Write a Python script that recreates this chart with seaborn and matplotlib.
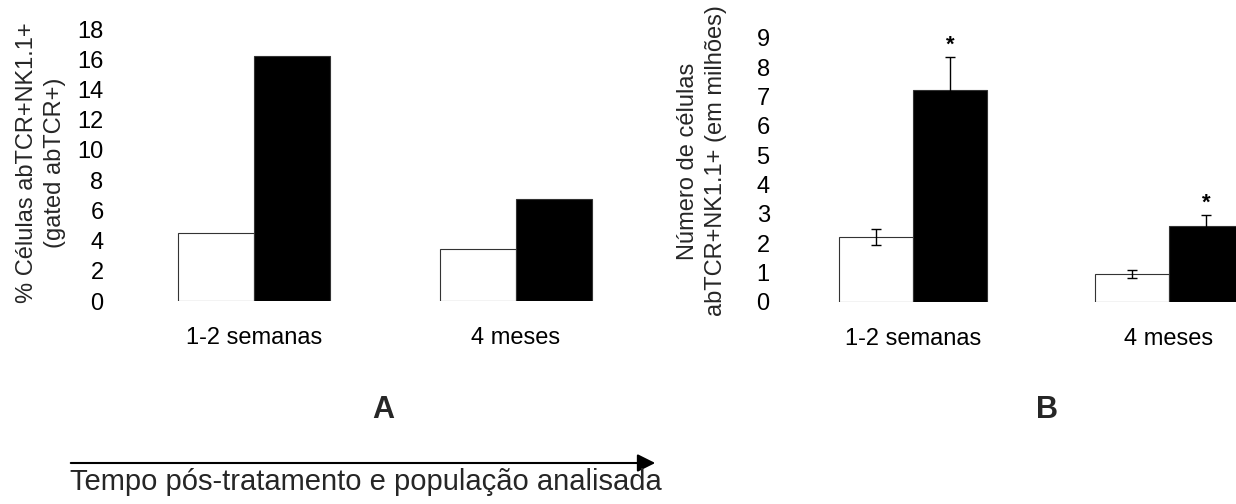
import numpy as np
import pandas as pd
import matplotlib
matplotlib.use("Agg")
import matplotlib.pyplot as plt
from matplotlib.patches import FancyArrowPatch
import seaborn as sns

# ---- data ----
groups = ["1-2 semanas", "4 meses"]
series = ["Controle", "Tratado"]
pct_controle = [4.5, 3.45]
pct_tratado = [16.2, 6.75]
num_controle = [2.22, 0.95]
num_tratado = [7.23, 2.59]
err_controle = [0.26, 0.13]
err_tratado = [1.13, 0.38]
signif_tratado = [True, True]
yticks_a = [0, 2, 4, 6, 8, 10, 12, 14, 16, 18]
yticks_b = [0, 1, 2, 3, 4, 5, 6, 7, 8, 9]

sns.set_theme(style="white")
plt.rcParams["font.family"] = ["Liberation Sans", "DejaVu Sans"]

W, H = 1236, 504
fig = plt.figure(figsize=(W / 100, H / 100), dpi=100)

axA = fig.add_axes([123 / W, (H - 301) / H, 524 / W, 272 / H])
axB = fig.add_axes([785 / W, (H - 302) / H, 512 / W, 264 / H])

palette = {"Controle": "white", "Tratado": "black"}

dfA = pd.DataFrame({
    "grupo": groups * 2,
    "serie": [series[0]] * len(groups) + [series[1]] * len(groups),
    "valor": pct_controle + pct_tratado,
})
dfB = pd.DataFrame({
    "grupo": groups * 2,
    "serie": [series[0]] * len(groups) + [series[1]] * len(groups),
    "valor": num_controle + num_tratado,
})

for ax, df in ((axA, dfA), (axB, dfB)):
    sns.barplot(data=df, x="grupo", y="valor", hue="serie", hue_order=series,
                order=groups, palette=palette, width=0.58, edgecolor="#333333",
                linewidth=0.8, errorbar=None, legend=False, ax=ax)
    for s in ax.spines.values():
        s.set_visible(False)
    ax.set_xlabel("")
    ax.tick_params(axis="both", length=0, labelsize=17, colors="black")
    ax.tick_params(axis="x", pad=19)
    ax.set_xlim(-0.5, len(groups) - 0.5)
    ax.grid(False)

axA.set_ylim(0, 18)
axA.set_yticks(yticks_a)
axA.tick_params(axis="y", pad=14)
axA.set_ylabel("% Células abTCR+NK1.1+\n(gated abTCR+)", fontsize=17, linespacing=1.35)
axA.yaxis.set_label_coords(-0.109, 0.507)

axB.set_ylim(0, 9)
axB.set_yticks(yticks_b)
axB.tick_params(axis="y", pad=11)
axB.set_ylabel("Número de células\nabTCR+NK1.1+ (em milhões)", fontsize=17, linespacing=1.35)
axB.yaxis.set_label_coords(-0.113, 0.534)

# error bars and significance marks from the seaborn bar containers
for cont, errs, means in ((axB.containers[0], err_controle, num_controle),
                          (axB.containers[1], err_tratado, num_tratado)):
    xs = [p.get_x() + p.get_width() / 2 for p in cont.patches]
    axB.errorbar(xs, means, yerr=errs, fmt="none", ecolor="black",
                 elinewidth=1.0, capsize=3.5, capthick=1.0, zorder=5)

xs_t = [p.get_x() + p.get_width() / 2 for p in axB.containers[1].patches]
for x, m, e, sig in zip(xs_t, num_tratado, err_tratado, signif_tratado):
    if sig:
        axB.text(x, m + e + 0.2, "*", ha="center", va="baseline", fontsize=16,
                 fontweight="bold", color="black", clip_on=False)

# panel letters
fig.text(383 / W, 1 - 410 / H, "A", ha="center", va="center", fontsize=22, fontweight="bold")
fig.text(1047 / W, 1 - 410 / H, "B", ha="center", va="center", fontsize=22, fontweight="bold")

# time arrow and caption
arrow = FancyArrowPatch((68 / W, 1 - 463 / H), (658 / W, 1 - 463 / H),
                        transform=fig.transFigure,
                        arrowstyle="-|>,head_length=0.6,head_width=0.3",
                        mutation_scale=18, lw=1.5, color="black")
fig.add_artist(arrow)
fig.text(366 / W, 1 - 490 / H, "Tempo pós-tratamento e população analisada",
         ha="center", va="baseline", fontsize=21)

fig.savefig("out.png", dpi=100)
